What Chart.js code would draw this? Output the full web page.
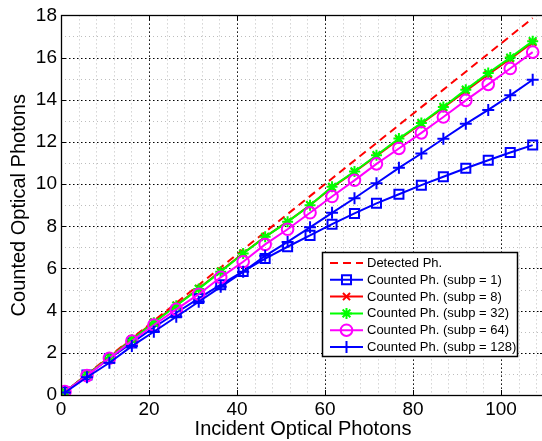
<!DOCTYPE html>
<html><head><meta charset="utf-8">
<script src="https://cdn.jsdelivr.net/npm/chart.js@4/dist/chart.umd.min.js"></script>
<style>
html,body{margin:0;padding:0;background:#fff;overflow:hidden}
#wrap{width:542px;height:441px;overflow:hidden;position:relative;background:#fff}
canvas{display:block}
</style></head>
<body><div id="wrap"><canvas id="c" width="560" height="441"></canvas></div>
<script>
const incident = [0.9, 5.9, 11.0, 16.1, 21.1, 26.2, 31.3, 36.3, 41.4, 46.4, 51.5, 56.6, 61.6, 66.7, 71.7, 76.8, 81.9, 86.9, 92.0, 97.1, 102.1, 107.2];
const detected = [0.15, 0.98, 1.83, 2.68, 3.52, 4.37, 5.22, 6.05, 6.9, 7.73, 8.58, 9.43, 10.27, 11.12, 11.95, 12.8, 13.65, 14.48, 15.33, 16.18, 17.02, 17.87];
const subp1 = [0.14, 0.95, 1.73, 2.47, 3.2, 3.9, 4.58, 5.23, 5.86, 6.47, 7.03, 7.57, 8.1, 8.61, 9.09, 9.52, 9.95, 10.35, 10.75, 11.13, 11.5, 11.85];
const subp8 = [0.15, 0.97, 1.79, 2.65, 3.46, 4.26, 5.05, 5.88, 6.72, 7.5, 8.22, 9.0, 9.84, 10.58, 11.34, 12.12, 12.86, 13.62, 14.42, 15.2, 15.94, 16.72];
const subp32 = [0.15, 0.96, 1.77, 2.62, 3.43, 4.23, 5.03, 5.85, 6.71, 7.5, 8.21, 9.0, 9.87, 10.6, 11.37, 12.16, 12.9, 13.66, 14.48, 15.27, 16.0, 16.78];
const subp64 = [0.16, 0.92, 1.74, 2.56, 3.32, 4.06, 4.78, 5.58, 6.32, 7.14, 7.86, 8.64, 9.41, 10.18, 10.96, 11.69, 12.43, 13.18, 13.97, 14.73, 15.48, 16.26];
const subp128 = [0.12, 0.84, 1.53, 2.32, 3.0, 3.71, 4.42, 5.13, 5.84, 6.6, 7.26, 7.95, 8.64, 9.33, 10.04, 10.77, 11.45, 12.15, 12.86, 13.52, 14.21, 14.95];
const labels = ['Detected Ph.', 'Counted Ph. (subp = 1)', 'Counted Ph. (subp = 8)', 'Counted Ph. (subp = 32)', 'Counted Ph. (subp = 64)', 'Counted Ph. (subp = 128)'];
const xMajorTicks = [0, 20, 40, 60, 80, 100];
const yMajorTicks = [0, 2, 4, 6, 8, 10, 12, 14, 16, 18];
const xMinorTicks = [4, 8, 12, 16, 24, 28, 32, 36, 44, 48, 52, 56, 64, 68, 72, 76, 84, 88, 92, 96, 104, 108];
const yMinorTicks = [1, 3, 5, 7, 9, 11, 13, 15, 17];

const FONT = "'Liberation Sans', Arial, Helvetica, sans-serif";
Chart.defaults.font.family = FONT;
Chart.defaults.color = '#000';

const pts = ys => incident.map((x, i) => ({x: x, y: ys[i]}));
const TRANSP = 'rgba(0,0,0,0)';
function series(label, ys, color, style, radius, order, dash) {
  return {
    label: label, data: pts(ys), borderColor: color, backgroundColor: TRANSP,
    borderWidth: 2, borderDash: dash || [], pointStyle: style || false,
    pointRadius: style ? radius : 0, pointBorderColor: color, pointBackgroundColor: TRANSP,
    pointBorderWidth: 2, pointHoverRadius: radius, tension: 0, order: order, fill: false
  };
}
const datasets = [
  series(labels[0], detected, '#ff0000', false, 0, 6, [8, 5]),
  series(labels[1], subp1, '#0000ff', 'rect', 6.4, 5),
  series(labels[2], subp8, '#ff0000', 'crossRot', 5, 4),
  series(labels[3], subp32, '#00ff00', 'star', 5.5, 3),
  series(labels[4], subp64, '#ff00ff', 'circle', 5.8, 2),
  series(labels[5], subp128, '#0000ff', 'cross', 6, 1)
];

const gridPlugin = {
  id: 'matlabGrid',
  beforeDatasetsDraw(chart) {
    const ctx = chart.ctx, xs = chart.scales.x, ys = chart.scales.y, a = chart.chartArea;
    ctx.save();
    ctx.lineWidth = 1;
    const vline = (v, color) => { const p = Math.round(xs.getPixelForValue(v)) + 0.5; ctx.strokeStyle = color; ctx.beginPath(); ctx.moveTo(p, a.top); ctx.lineTo(p, a.bottom); ctx.stroke(); };
    const hline = (v, color) => { const p = Math.round(ys.getPixelForValue(v)) + 0.5; ctx.strokeStyle = color; ctx.beginPath(); ctx.moveTo(a.left, p); ctx.lineTo(a.right, p); ctx.stroke(); };
    ctx.setLineDash([1, 3]);
    xMinorTicks.forEach(v => vline(v, '#bdbdbd'));
    yMinorTicks.forEach(v => hline(v, '#bdbdbd'));
    ctx.setLineDash([1.5, 2.5]);
    xMajorTicks.forEach(v => { if (v > 0) vline(v, '#000'); });
    yMajorTicks.forEach(v => { if (v > 0 && v < 18) hline(v, '#000'); });
    ctx.setLineDash([]);
    ctx.strokeStyle = '#000';
    xMajorTicks.forEach(v => {
      const p = Math.round(xs.getPixelForValue(v)) + 0.5;
      ctx.beginPath(); ctx.moveTo(p, a.bottom); ctx.lineTo(p, a.bottom - 5); ctx.moveTo(p, a.top); ctx.lineTo(p, a.top + 5); ctx.stroke();
    });
    yMajorTicks.forEach(v => {
      const p = Math.round(ys.getPixelForValue(v)) + 0.5;
      ctx.beginPath(); ctx.moveTo(a.left, p); ctx.lineTo(a.left + 5, p); ctx.moveTo(a.right, p); ctx.lineTo(a.right - 5, p); ctx.stroke();
    });
    ctx.restore();
  },
  afterDatasetsDraw(chart) {
    const ctx = chart.ctx, a = chart.chartArea;
    ctx.save();
    ctx.strokeStyle = '#000'; ctx.lineWidth = 1.3;
    ctx.strokeRect(Math.round(a.left) + 0.5, Math.round(a.top) + 0.5, Math.round(a.right - a.left), Math.round(a.bottom - a.top));
    ctx.restore();
  }
};

const legendPlugin = {
  id: 'matlabLegend',
  afterDraw(chart) {
    const ctx = chart.ctx;
    const bx = 322.5, by = 252.5, bw = 195, bh = 104;
    ctx.save();
    ctx.fillStyle = '#fff';
    ctx.fillRect(bx, by, bw, bh);
    ctx.strokeStyle = '#000'; ctx.lineWidth = 1.5;
    ctx.strokeRect(bx, by, bw, bh);
    chart.data.datasets.forEach((ds, i) => {
      const y = 263 + i * 16.8;
      ctx.strokeStyle = ds.borderColor; ctx.lineWidth = 2;
      ctx.setLineDash(ds.borderDash || []);
      ctx.beginPath(); ctx.moveTo(330, y); ctx.lineTo(363, y); ctx.stroke();
      ctx.setLineDash([]);
      if (ds.pointStyle) {
        ctx.strokeStyle = ds.pointBorderColor; ctx.fillStyle = TRANSP; ctx.lineWidth = 2;
        Chart.helpers.drawPoint(ctx, {pointStyle: ds.pointStyle, radius: ds.pointRadius, rotation: 0, borderWidth: 2}, 346.5, y);
      }
      ctx.fillStyle = '#000';
      ctx.font = '13px ' + FONT;
      ctx.textBaseline = 'middle'; ctx.textAlign = 'left';
      ctx.fillText(ds.label, 367, y + 0.5);
    });
    ctx.restore();
  }
};

new Chart(document.getElementById('c'), {
  type: 'line',
  data: { datasets: datasets },
  plugins: [gridPlugin, legendPlugin],
  options: {
    responsive: false, animation: false,
    layout: { padding: { left: 0, top: 15, right: 15, bottom: 0 } },
    plugins: { legend: { display: false }, tooltip: { enabled: false } },
    scales: {
      x: {
        type: 'linear', min: 0, max: 110,
        afterBuildTicks: s => { s.ticks = xMajorTicks.map(v => ({value: v})); },
        afterFit: s => { s.height = 46; },
        grid: { display: false, drawTicks: false },
        border: { display: false },
        ticks: { font: { size: 19 }, padding: 3, maxRotation: 0, autoSkip: false, callback: v => String(v) },
        title: { display: true, text: 'Incident Optical Photons', font: { size: 20 }, padding: { top: 0, bottom: 0 } }
      },
      y: {
        type: 'linear', min: 0, max: 18,
        afterBuildTicks: s => { s.ticks = yMajorTicks.map(v => ({value: v})); },
        afterFit: s => { s.width = 61; },
        grid: { display: false, drawTicks: false },
        border: { display: false },
        ticks: { font: { size: 19 }, padding: 4, autoSkip: false, callback: v => String(v) },
        title: { display: true, text: 'Counted Optical Photons', font: { size: 20 }, padding: { top: 7, bottom: 0 } }
      }
    }
  }
});
</script>
</body></html>
